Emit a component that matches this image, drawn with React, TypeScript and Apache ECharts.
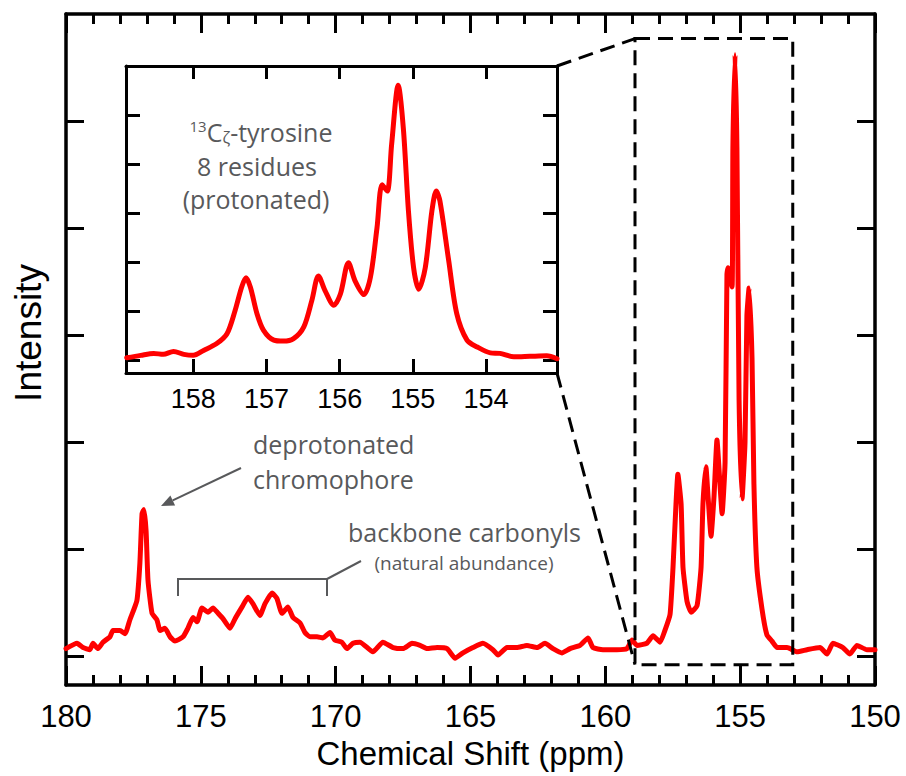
import React, { useEffect, useRef } from "react";
import * as echarts from "echarts";

// ---- Main spectrum (ppm, intensity) ----
const mainShift = [
  180.0, 179.59, 179.37, 179.11, 179.0, 178.81, 178.63, 178.37, 178.26, 178.0,
  177.81, 177.63, 177.37, 177.26, 177.18, 177.11, 177.03, 176.96, 176.81, 176.63,
  176.51, 176.33, 176.14, 175.96, 175.66, 175.48, 175.29, 175.14, 174.96, 174.73,
  174.55, 174.36, 174.18, 173.92, 173.73, 173.47, 173.25, 173.07, 172.81, 172.62,
  172.36, 172.18, 171.99, 171.77, 171.58, 171.32, 171.14, 170.95, 170.69, 170.47,
  170.21, 170.03, 169.77, 169.58, 169.36, 169.1, 168.62, 168.25, 167.87, 167.5,
  167.17, 166.87, 166.61, 166.24, 165.87, 165.57, 165.28, 164.91, 164.54, 164.17,
  163.98, 163.65, 163.28, 162.91, 162.53, 162.24, 161.94, 161.61, 161.31, 160.94,
  160.64, 160.46, 160.09, 159.57, 159.2, 159.01, 158.83, 158.46, 158.23, 157.97,
  157.79, 157.6, 157.49, 157.38, 157.31, 157.19, 157.12, 156.97, 156.82, 156.6,
  156.45, 156.38, 156.27, 156.19, 156.08, 155.97, 155.86, 155.75, 155.67, 155.56,
  155.49, 155.45, 155.3, 155.27, 155.19, 155.12, 155.04, 154.93, 154.82, 154.75,
  154.67, 154.56, 154.49, 154.38, 154.19, 154.01, 153.82, 153.63, 153.26, 152.89,
  152.52, 152.04, 151.78, 151.56, 151.19, 150.93, 150.67, 150.3, 150.0,
];
const mainIntensity = [
  0.07, 0.12, 0.08, 0.06, 0.12, 0.07, 0.13, 0.18, 0.24, 0.24,
  0.21, 0.34, 0.52, 0.87, 1.33, 1.37, 1.17, 0.71, 0.4, 0.34,
  0.24, 0.26, 0.18, 0.14, 0.18, 0.26, 0.36, 0.32, 0.45, 0.41,
  0.45, 0.4, 0.35, 0.26, 0.35, 0.46, 0.55, 0.49, 0.38, 0.49,
  0.59, 0.54, 0.4, 0.46, 0.36, 0.31, 0.22, 0.18, 0.18, 0.17,
  0.22, 0.15, 0.13, 0.07, 0.12, 0.13, 0.04, 0.13, 0.08, 0.07,
  0.12, 0.1, 0.07, 0.08, 0.07, -0.02, 0.03, 0.08, 0.12, 0.06,
  0.01, 0.08, 0.08, 0.1, 0.08, 0.12, 0.07, 0.03, 0.07, 0.1,
  0.17, 0.08, 0.06, 0.06, 0.07, 0.15, 0.1, 0.12, 0.19, 0.13,
  0.24, 0.39, 0.83, 1.42, 1.7, 1.42, 0.83, 0.51, 0.41, 0.47,
  0.83, 1.42, 1.77, 1.49, 1.12, 1.49, 2.02, 1.61, 1.33, 1.81,
  3.57, 3.63, 3.45, 4.75, 5.62, 4.75, 2.39, 1.47, 2.0, 3.18,
  3.44, 2.78, 1.61, 0.83, 0.44, 0.2, 0.14, 0.08, 0.08, 0.04,
  0.06, 0.08, 0.02, 0.12, 0.08, 0.02, 0.1, 0.06, 0.06,
];

// ---- Inset spectrum (zoom of the tyrosine region) ----
const insetShift = [
  158.91, 158.72, 158.54, 158.41, 158.27, 158.13, 158.0, 157.86, 157.68, 157.54,
  157.43, 157.34, 157.28, 157.22, 157.13, 157.04, 156.9, 156.77, 156.63, 156.49,
  156.38, 156.29, 156.2, 156.08, 155.99, 155.88, 155.79, 155.67, 155.58, 155.49,
  155.42, 155.35, 155.29, 155.2, 155.13, 155.06, 154.99, 154.92, 154.83, 154.74,
  154.68, 154.63, 154.51, 154.4, 154.26, 154.12, 153.94, 153.81, 153.62, 153.4,
  153.17, 153.03,
];
const insetIntensity = [
  0.05, 0.1, 0.14, 0.12, 0.18, 0.12, 0.1, 0.2, 0.34, 0.54,
  1.01, 1.49, 1.68, 1.49, 0.95, 0.61, 0.41, 0.39, 0.44, 0.68,
  1.22, 1.72, 1.42, 1.12, 1.35, 1.99, 1.62, 1.34, 1.69, 2.7,
  3.58, 3.45, 4.4, 5.61, 4.73, 3.04, 1.89, 1.45, 1.89, 3.04,
  3.45, 3.25, 2.03, 0.95, 0.41, 0.27, 0.15, 0.14, 0.07, 0.08,
  0.09, 0.03,
];

const insetXTicks = [158, 157, 156, 155, 154];
const yTicks = [0, 1, 2, 3, 4, 5];
const zoomShiftRange = [158.9, 153.05];
const zoomIntensityRange = [-0.08, 5.77];
const insetShiftRange = [153.03, 158.92];

const RED = "#ff0000";
const INK = "#000000";
const GRAY = "#58595b";
const NUM_FONT = "'Liberation Sans', Arial, Helvetica, sans-serif";
const TXT_FONT = "'Open Sans', 'Noto Sans', sans-serif";

export default function App() {
  const ref = useRef<HTMLDivElement>(null);

  useEffect(() => {
    if (!ref.current) return;
    const chart = echarts.init(ref.current, undefined, { renderer: "svg" });

    const frameLine = { show: true, onZero: false, lineStyle: { color: INK, width: 3.5 } };
    const insetLine = { show: true, onZero: false, lineStyle: { color: INK, width: 3 } };

    const option: any = {
      animation: false,
      backgroundColor: "#ffffff",
      grid: [
        { left: 66, top: 14, width: 809, height: 671, containLabel: false },
        {
          left: 126, top: 66, width: 431, height: 307,
          show: true, backgroundColor: "#ffffff", borderWidth: 0, z: 10,
        },
      ],
      xAxis: [
        {
          gridIndex: 0, type: "value", min: 150, max: 180, interval: 5, inverse: true,
          position: "bottom",
          axisLine: frameLine,
          axisTick: { show: true, inside: true, length: 19, lineStyle: { color: INK, width: 3 } },
          minorTick: { show: true, splitNumber: 5, length: 10, lineStyle: { color: INK, width: 3 } },
          splitLine: { show: false },
          axisLabel: { show: true, color: INK, fontSize: 31, fontFamily: NUM_FONT, margin: 16 },
          name: "Chemical Shift (ppm)", nameLocation: "middle", nameGap: 52,
          nameTextStyle: { color: INK, fontSize: 33, fontFamily: NUM_FONT },
        },
        {
          gridIndex: 0, type: "value", min: 150, max: 180, interval: 5, inverse: true,
          position: "top",
          axisLine: frameLine,
          axisTick: { show: true, inside: true, length: 19, lineStyle: { color: INK, width: 3 } },
          minorTick: { show: true, splitNumber: 5, length: 10, lineStyle: { color: INK, width: 3 } },
          splitLine: { show: false },
          axisLabel: { show: false },
        },
        {
          gridIndex: 1, type: "value", min: insetShiftRange[0], max: insetShiftRange[1], inverse: true,
          position: "bottom", z: 11,
          axisLine: insetLine,
          axisTick: { show: true, inside: true, length: 14, customValues: insetXTicks, lineStyle: { color: INK, width: 3 } },
          splitLine: { show: false },
          axisLabel: { show: true, customValues: insetXTicks, color: INK, fontSize: 27, fontFamily: NUM_FONT, margin: 12 },
        },
        {
          gridIndex: 1, type: "value", min: insetShiftRange[0], max: insetShiftRange[1], inverse: true,
          position: "top", z: 11,
          axisLine: insetLine,
          axisTick: { show: true, inside: true, length: 13, customValues: insetXTicks, lineStyle: { color: INK, width: 3 } },
          splitLine: { show: false },
          axisLabel: { show: false },
        },
      ],
      yAxis: [
        {
          gridIndex: 0, type: "value", min: -0.27, max: 6, position: "left",
          axisLine: frameLine,
          axisTick: { show: true, inside: true, length: 18, customValues: yTicks, lineStyle: { color: INK, width: 3 } },
          splitLine: { show: false },
          axisLabel: { show: false },
        },
        {
          gridIndex: 0, type: "value", min: -0.27, max: 6, position: "right",
          axisLine: frameLine,
          axisTick: { show: true, inside: true, length: 18, customValues: yTicks, lineStyle: { color: INK, width: 3 } },
          splitLine: { show: false },
          axisLabel: { show: false },
        },
        {
          gridIndex: 1, type: "value", min: -0.26, max: 6, position: "left", z: 11,
          axisLine: insetLine,
          axisTick: { show: true, inside: true, length: 14, customValues: yTicks, lineStyle: { color: INK, width: 3 } },
          splitLine: { show: false },
          axisLabel: { show: false },
        },
        {
          gridIndex: 1, type: "value", min: -0.26, max: 6, position: "right", z: 11,
          axisLine: insetLine,
          axisTick: { show: true, inside: true, length: 14, customValues: yTicks, lineStyle: { color: INK, width: 3 } },
          splitLine: { show: false },
          axisLabel: { show: false },
        },
      ],
      series: [
        {
          type: "line", xAxisIndex: 0, yAxisIndex: 0, z: 5,
          data: mainShift.map((x, i) => [x, mainIntensity[i]]),
          showSymbol: false, symbol: "none", smooth: 0.15,
          lineStyle: { color: RED, width: 5, join: "round", cap: "round" },
        },
        {
          type: "line", xAxisIndex: 2, yAxisIndex: 2, z: 12,
          data: insetShift.map((x, i) => [x, insetIntensity[i]]),
          showSymbol: false, symbol: "none", smooth: 0.3,
          lineStyle: { color: RED, width: 5, join: "round", cap: "round" },
        },
      ],
    };

    chart.setOption(option);

    const pm = (x: number, y: number) => chart.convertToPixel({ seriesIndex: 0 }, [x, y]) as number[];
    const pi = (x: number, y: number) => chart.convertToPixel({ seriesIndex: 1 }, [x, y]) as number[];

    const boxTL = pm(zoomShiftRange[0], zoomIntensityRange[1]);
    const boxBR = pm(zoomShiftRange[1], zoomIntensityRange[0]);
    const insTR = pi(insetShiftRange[0], 6);
    const insBR = pi(insetShiftRange[0], -0.26);

    const dash = { stroke: INK, lineWidth: 3, lineDash: [15, 8], fill: "none" };

    // arrow
    const tail = [241, 468];
    const tip = [161, 506];
    const dx = tip[0] - tail[0], dy = tip[1] - tail[1];
    const len = Math.hypot(dx, dy);
    const ux = dx / len, uy = dy / len;
    const hl = 13, hw = 5.5;
    const bx = tip[0] - ux * hl, by = tip[1] - uy * hl;
    const arrowHead = [
      [tip[0], tip[1]],
      [bx - uy * hw, by + ux * hw],
      [bx + uy * hw, by - ux * hw],
    ];

    const graphic: any[] = [
      {
        type: "rect", z: 20, silent: true,
        shape: { x: boxTL[0], y: boxTL[1], width: boxBR[0] - boxTL[0], height: boxBR[1] - boxTL[1] },
        style: dash,
      },
      {
        type: "line", z: 20, silent: true,
        shape: { x1: insTR[0], y1: insTR[1], x2: boxTL[0], y2: boxTL[1] },
        style: dash,
      },
      {
        type: "line", z: 20, silent: true,
        shape: { x1: insBR[0], y1: insBR[1], x2: boxTL[0], y2: boxBR[1] },
        style: dash,
      },
      {
        type: "text", z: 20, x: 28, y: 333, rotation: Math.PI / 2,
        style: { text: "Intensity", fill: INK, font: `37px ${NUM_FONT}`, textAlign: "center", textVerticalAlign: "middle" },
      },
      {
        type: "text", z: 20, x: 253, y: 444,
        style: { text: "deprotonated", fill: GRAY, font: `25px ${TXT_FONT}`, textAlign: "left", textVerticalAlign: "middle" },
      },
      {
        type: "text", z: 20, x: 253, y: 479,
        style: { text: "chromophore", fill: GRAY, font: `25px ${TXT_FONT}`, textAlign: "left", textVerticalAlign: "middle" },
      },
      {
        type: "line", z: 20, shape: { x1: tail[0], y1: tail[1], x2: bx, y2: by },
        style: { stroke: GRAY, lineWidth: 2 },
      },
      { type: "polygon", z: 20, shape: { points: arrowHead }, style: { fill: GRAY } },
      {
        type: "text", z: 20, x: 348, y: 532,
        style: { text: "backbone carbonyls", fill: GRAY, font: `25px ${TXT_FONT}`, textAlign: "left", textVerticalAlign: "middle" },
      },
      {
        type: "text", z: 20, x: 464, y: 563,
        style: { text: "(natural abundance)", fill: GRAY, font: `19px ${TXT_FONT}`, textAlign: "center", textVerticalAlign: "middle" },
      },
      {
        type: "polyline", z: 20,
        shape: { points: [[178, 596], [178, 579], [327, 579], [327, 596]] },
        style: { stroke: GRAY, lineWidth: 2, fill: "none" },
      },
      {
        type: "line", z: 20, shape: { x1: 327, y1: 579, x2: 361, y2: 561 },
        style: { stroke: GRAY, lineWidth: 2 },
      },
      {
        type: "text", z: 30, x: 261, y: 132,
        style: {
          text: "{sup|13}C{sub|ζ}-tyrosine",
          fill: GRAY, font: `25px ${TXT_FONT}`, textAlign: "center", textVerticalAlign: "middle",
          lineHeight: 28,
          rich: {
            sup: { fontSize: 15, fontFamily: TXT_FONT, fill: GRAY, verticalAlign: "top", lineHeight: 15 },
            sub: { fontSize: 16, fontFamily: TXT_FONT, fill: GRAY, verticalAlign: "bottom", lineHeight: 16 },
          },
        },
      },
      {
        type: "text", z: 30, x: 257, y: 166,
        style: { text: "8 residues", fill: GRAY, font: `25px ${TXT_FONT}`, textAlign: "center", textVerticalAlign: "middle" },
      },
      {
        type: "text", z: 30, x: 256, y: 199,
        style: { text: "(protonated)", fill: GRAY, font: `25px ${TXT_FONT}`, textAlign: "center", textVerticalAlign: "middle" },
      },
    ];

    chart.setOption({ graphic });

    return () => chart.dispose();
  }, []);

  return (
    <div
      ref={ref}
      style={{ position: "fixed", left: 0, top: 0, width: 906, height: 776, background: "#fff" }}
    />
  );
}
